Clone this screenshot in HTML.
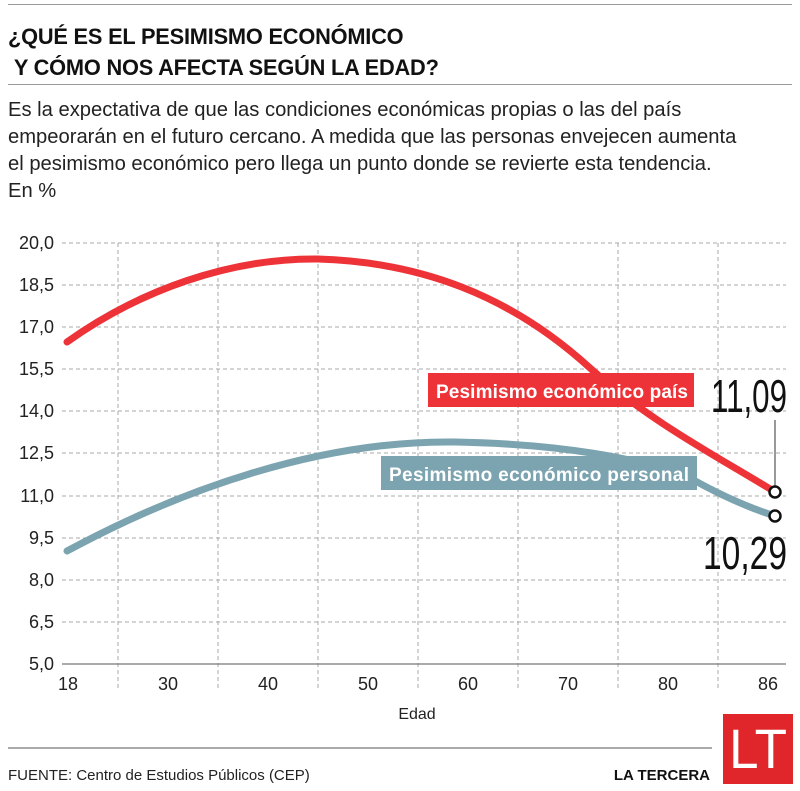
<!DOCTYPE html>
<html><head><meta charset="utf-8"><style>
body{margin:0;background:#fff;font-family:"Liberation Sans",sans-serif;color:#111}
.w{position:relative;width:800px;height:791px;overflow:hidden}
.t{position:absolute;left:8px;top:21px;font-weight:bold;font-size:22px;line-height:31px;transform:scaleX(.99);transform-origin:left;white-space:nowrap;letter-spacing:-.2px}
.p{position:absolute;left:8px;top:97px;font-size:20.2px;line-height:27px;white-space:nowrap;color:#222}
</style></head><body><div class="w">
<div style="position:absolute;left:8px;right:8px;top:4px;border-top:1px solid #999"></div>
<div class="t">¿QUÉ ES EL PESIMISMO ECONÓMICO<br>&nbsp;Y CÓMO NOS AFECTA SEGÚN LA EDAD?</div>
<div style="position:absolute;left:8px;right:8px;top:84px;border-top:1px solid #999"></div>
<div class="p">Es la expectativa de que las condiciones económicas propias o las del país<br>empeorarán en el futuro cercano. A medida que las personas envejecen aumenta<br>el pesimismo económico pero llega un punto donde se revierte esta tendencia.<br>En %</div>
<svg width="800" height="791" style="position:absolute;left:0;top:0" font-family="Liberation Sans">
<g stroke="#aaa" stroke-dasharray="4,3" stroke-width="1">
<line x1="62" x2="786" y1="243" y2="243"/><line x1="62" x2="786" y1="285" y2="285"/><line x1="62" x2="786" y1="327" y2="327"/><line x1="62" x2="786" y1="369" y2="369"/><line x1="62" x2="786" y1="411" y2="411"/><line x1="62" x2="786" y1="453" y2="453"/><line x1="62" x2="786" y1="496" y2="496"/><line x1="62" x2="786" y1="538" y2="538"/><line x1="62" x2="786" y1="580" y2="580"/><line x1="62" x2="786" y1="622" y2="622"/>
<line x1="118" x2="118" y1="243" y2="690"/><line x1="218" x2="218" y1="243" y2="690"/><line x1="318" x2="318" y1="243" y2="690"/><line x1="418" x2="418" y1="243" y2="690"/><line x1="518" x2="518" y1="243" y2="690"/><line x1="618" x2="618" y1="243" y2="690"/><line x1="718" x2="718" y1="243" y2="690"/>
</g>
<line x1="62" x2="786" y1="664" y2="664" stroke="#777" stroke-width="1.2"/>
<g font-size="18" fill="#222" text-anchor="end">
<text x="54" y="249">20,0</text><text x="54" y="291">18,5</text><text x="54" y="333">17,0</text><text x="54" y="375">15,5</text><text x="54" y="417">14,0</text><text x="54" y="459">12,5</text><text x="54" y="502">11,0</text><text x="54" y="544">9,5</text><text x="54" y="586">8,0</text><text x="54" y="628">6,5</text><text x="54" y="670">5,0</text>
</g>
<g font-size="18" fill="#222" text-anchor="middle">
<text x="68" y="690">18</text><text x="168" y="690">30</text><text x="268" y="690">40</text><text x="368" y="690">50</text><text x="468" y="690">60</text><text x="568" y="690">70</text><text x="668" y="690">80</text><text x="768" y="690">86</text>
<text x="417" y="719" font-size="16">Edad</text>
</g>
<path d="M67,342 C140,290 230,258 318,259 C420,262 510,295 590,368 C650,422 720,458 775,492" fill="none" stroke="#ee3338" stroke-width="7" stroke-linecap="round"/>
<path d="M67,551 C180,490 320,440 455,442 C560,444 640,458 690,478 C720,495 750,508 775,516" fill="none" stroke="#7ba4b0" stroke-width="7" stroke-linecap="round"/>
<rect x="428" y="373" width="266" height="34" fill="#ee3338"/>
<text x="436" y="398" font-size="19" font-weight="bold" fill="#fff" textLength="252">Pesimismo económico país</text>
<rect x="381" y="456" width="316" height="34" fill="#7ba4b0"/>
<text x="389" y="481" font-size="19" font-weight="bold" fill="#fff" textLength="300">Pesimismo económico personal</text>
<line x1="775" y1="420" x2="775" y2="487" stroke="#333" stroke-width="1"/>
<circle cx="775" cy="492" r="5.5" fill="#fff" stroke="#111" stroke-width="2.5"/>
<circle cx="775" cy="516" r="5.5" fill="#fff" stroke="#111" stroke-width="2.5"/>
<text x="787" y="412" font-size="46" text-anchor="end" fill="#111" textLength="76" lengthAdjust="spacingAndGlyphs">11,09</text>
<text x="787" y="569" font-size="46" text-anchor="end" fill="#111" textLength="84" lengthAdjust="spacingAndGlyphs">10,29</text>
<line x1="8" x2="712" y1="748" y2="748" stroke="#777" stroke-width="1.2"/>
<text x="8" y="780" font-size="15" fill="#222">FUENTE: Centro de Estudios Públicos (CEP)</text>
<text x="710" y="780" font-size="15" font-weight="bold" text-anchor="end" fill="#111">LA TERCERA</text>
<rect x="723" y="714" width="70" height="70" fill="#e0252b"/>
<text x="758" y="768" font-size="56" fill="#fff" text-anchor="middle" textLength="58" lengthAdjust="spacingAndGlyphs">LT</text>
</svg>
</div></body></html>
